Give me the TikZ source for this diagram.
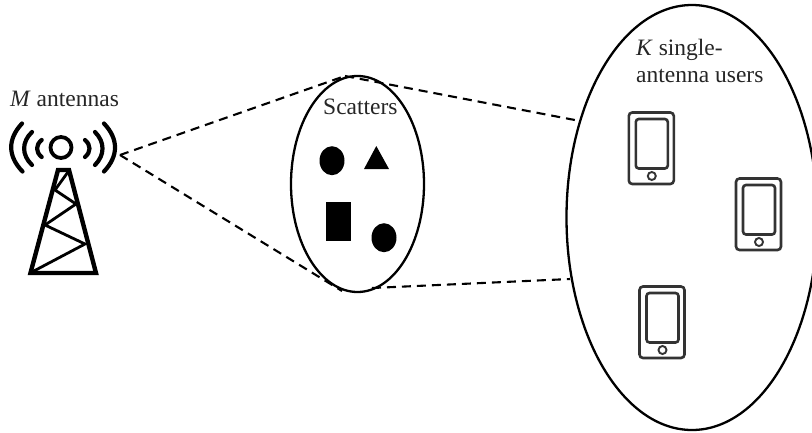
\documentclass[tikz,border=0pt]{standalone}
\usepackage{fontspec}
\setmainfont{Liberation Serif}
\tikzset{
  link/.style={line width=2.1pt,dash pattern=on 9pt off 6pt,black},
  blob/.style={draw=black,line width=2.3pt,fill=white,ellipse,inner sep=0pt},
  label/.style={anchor=base west,inner sep=0pt,font=\fontsize{23.5}{28}\selectfont,text=black!85},
  ant/.style={line width=4.2pt,line cap=round,line join=round,black},
  solidshape/.style={fill=black,draw=none},
  phone/.pic={
    \draw[line width=2.6pt,draw=black!80,rounded corners=3.5pt] (0,0) rectangle (45,71.5);
    \draw[line width=2.6pt,draw=black!80,rounded corners=3pt] (7,6.5) rectangle (39,56);
    \draw[line width=1.9pt,draw=black!80] (23,63.5) circle[radius=4];
  }
}
\usetikzlibrary{shapes.geometric}
\begin{document}
\begin{tikzpicture}[x=1pt,y=-1pt]
\useasboundingbox (0,0) rectangle (812,432);
\coordinate (antR) at (120,155);
\coordinate (midT) at (345,76);
\coordinate (midB) at (342,291);
\coordinate (midBr) at (372,288);
\coordinate (bigT) at (580,121);
\coordinate (bigB) at (570,279);
\draw[link] (antR) -- (midT);
\draw[link] (antR) -- (midB);
\node[blob,minimum width=251pt,minimum height=425pt] (users) at (692,217.5) {};
\node[blob,minimum width=133pt,minimum height=216pt] (scat) at (357.5,184) {};
\draw[link] (midT) -- (bigT);
\draw[link] (midBr) -- (bigB);
% scatterers
\fill[solidshape] (332,160.7) ellipse[x radius=12.5,y radius=14.5];
\fill[solidshape] (376.3,146) -- (364,169) -- (389,169) -- cycle;
\fill[solidshape] (325.7,202) rectangle (350.7,241);
\fill[solidshape] (384,237.7) ellipse[x radius=12.5,y radius=14.5];
% antenna
\draw[ant,line width=3.8pt] (61,147.5) circle[radius=10.5];
\draw[ant] (41.7,140) .. controls (35.5,145) and (35.5,152) .. (41.7,157);
\draw[ant] (85,140) .. controls (91,145) and (91,152) .. (85,157);
\draw[ant] (32,132) .. controls (21.5,142) and (21.5,155) .. (32,165);
\draw[ant] (95,132) .. controls (105,142) and (105,155) .. (95,165);
\draw[ant] (22,123.5) .. controls (7.5,139) and (7.5,156) .. (22.5,171.5);
\draw[ant] (104,123.5) .. controls (118.7,139) and (118.7,156) .. (104,171.5);
\draw[ant,line width=4.4pt,line cap=butt,line join=miter] (58,170) -- (69,170) -- (96,273) -- (30.5,273) -- cycle;
\draw[line width=2.8pt,black] (68,172) -- (55,190) -- (76,204) -- (45,225) -- (85,244) -- (32,272);
% phones
\pic at (628.8,112.5) {phone};
\pic at (736,178.5) {phone};
\pic at (639.5,286.5) {phone};
% labels
\node[label] (lm) at (10,106) {\textit{M} antennas};
\node[label] (ls) at (323,114) {Scatters};
\node[label] (lk1) at (636,55) {\textit{K} single-};
\node[label] (lk2) at (636,82) {antenna users};
\end{tikzpicture}
\end{document}
